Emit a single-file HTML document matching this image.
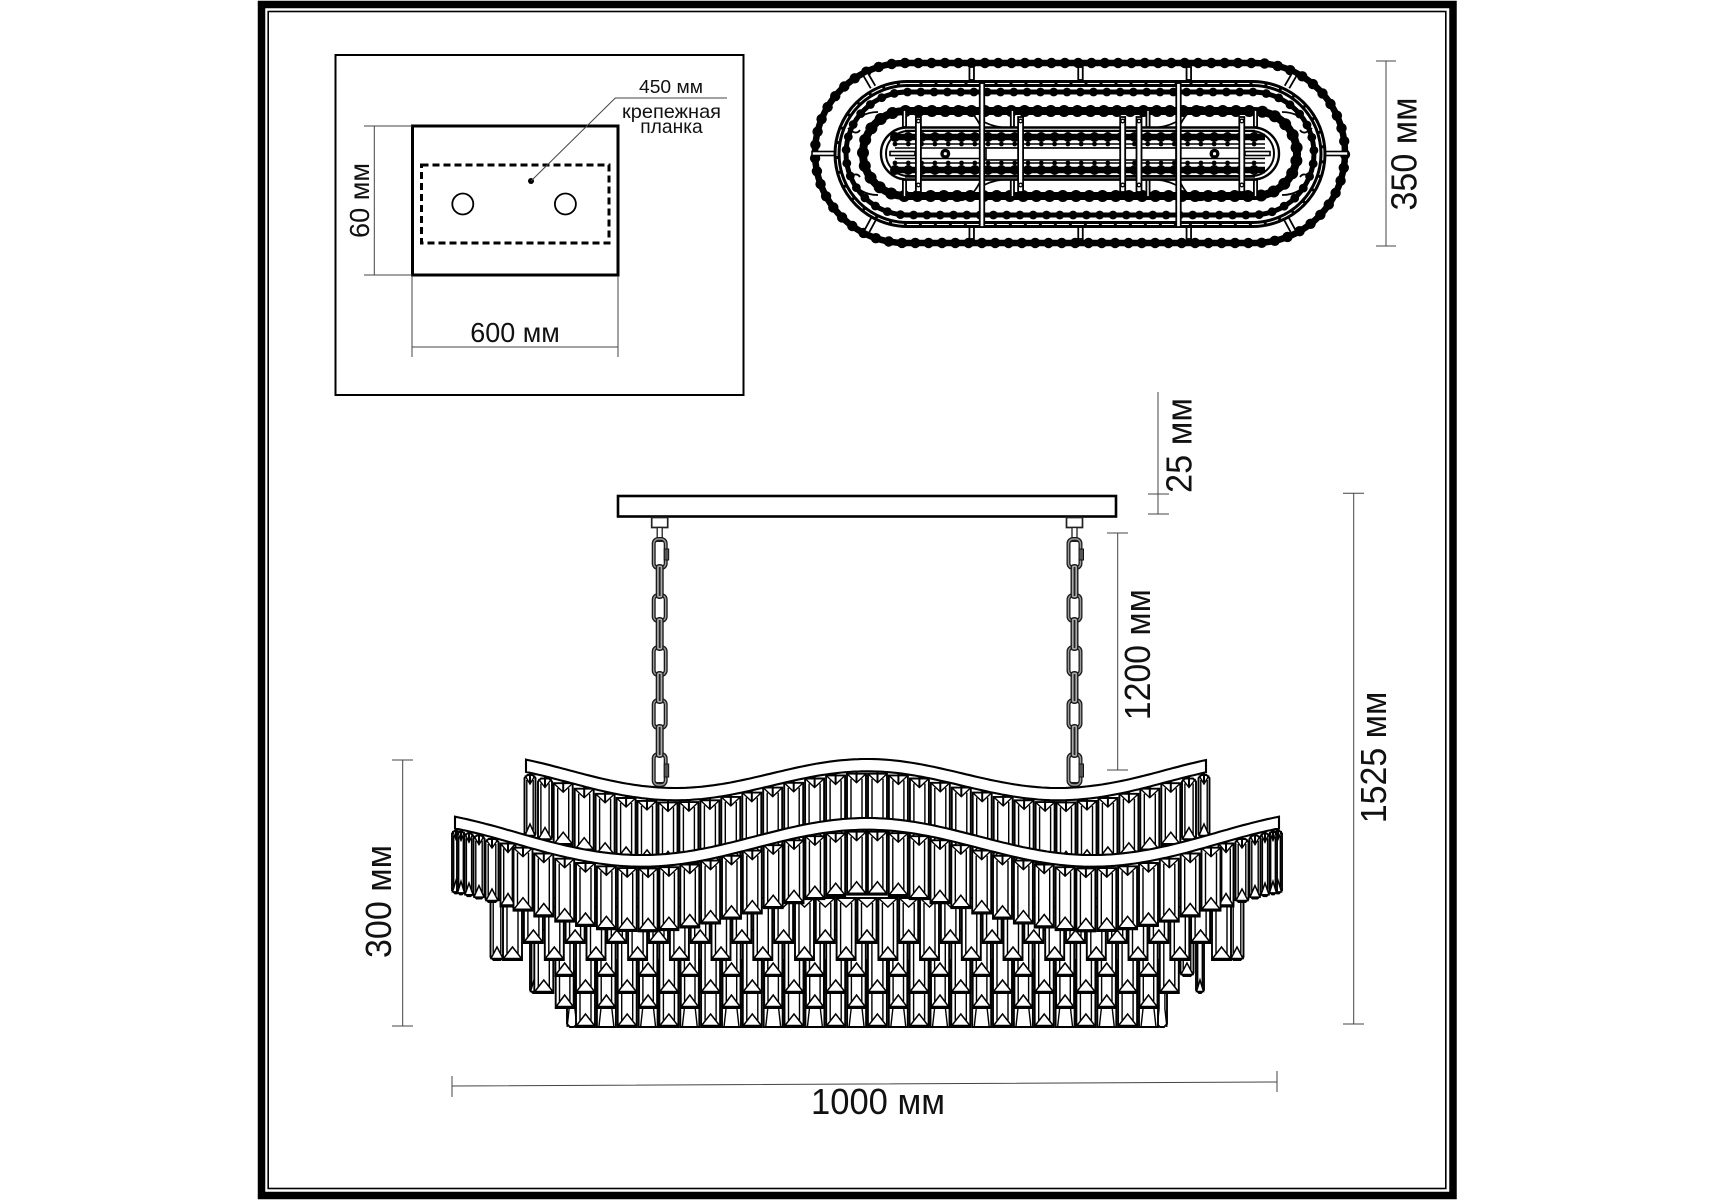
<!DOCTYPE html>
<html lang="ru"><head><meta charset="utf-8"><title>Схема</title>
<style>html,body{margin:0;padding:0;background:#fff}svg{display:block}text{font-family:"Liberation Sans",sans-serif;fill:#111}</style></head>
<body>
<svg xmlns="http://www.w3.org/2000/svg" width="1715" height="1200" viewBox="0 0 1715 1200">
<rect width="1715" height="1200" fill="#fff"/>
<rect x="261.5" y="4.5" width="1191.5" height="1191" fill="none" stroke="#000" stroke-width="7.5"/>
<rect x="268.2" y="11.5" width="1177.6" height="1177" fill="none" stroke="#000" stroke-width="1.6"/>
<!-- mounting panel -->
<rect x="335.5" y="55" width="408" height="340" fill="none" stroke="#000" stroke-width="2"/>
<rect x="412.5" y="126" width="205.5" height="149" fill="none" stroke="#000" stroke-width="3"/>
<rect x="421.5" y="165" width="187.5" height="78" fill="none" stroke="#000" stroke-width="3" stroke-dasharray="7 4"/>
<circle cx="462.8" cy="204" r="10.5" fill="none" stroke="#000" stroke-width="1.8"/>
<circle cx="565.4" cy="204" r="10.5" fill="none" stroke="#000" stroke-width="1.8"/>
<circle cx="531" cy="181" r="3" fill="#000"/>
<g fill="none" stroke="#444" stroke-width="1">
<path d="M531 181L615.3 98H727"/>
<path d="M364 126H412M364 275H412M374.3 126V275"/>
<path d="M412 276V357M618 276V357M412 347H618"/>
<path d="M1376 61H1396M1376 246H1396M1386 61V246"/>
<path d="M1158 392V514M1148 494H1169M1148 514H1169"/>
<path d="M1107 533H1128M1107 770H1128M1117.7 533V770"/>
<path d="M1343 493.3H1364M1343 1024H1364M1353.7 493.3V1024"/>
<path d="M392 760H413M392 1026H413M402.7 760V1026"/>
<path d="M452 1076V1097M1277 1071V1092M452 1086L1277 1082"/>
</g>
<text x="671" y="93" text-anchor="middle" font-size="18.5" textLength="64" lengthAdjust="spacingAndGlyphs">450 мм</text>
<text x="671.5" y="118" text-anchor="middle" font-size="19.5" textLength="99" lengthAdjust="spacingAndGlyphs">крепежная</text>
<text x="671.5" y="133" text-anchor="middle" font-size="19.5" textLength="62.5" lengthAdjust="spacingAndGlyphs">планка</text>
<text x="515" y="342" text-anchor="middle" font-size="27.5" textLength="89.5" lengthAdjust="spacingAndGlyphs">600 мм</text>
<text transform="translate(369 200.5) rotate(-90)" text-anchor="middle" font-size="27.5" textLength="75" lengthAdjust="spacingAndGlyphs">60 мм</text>
<text transform="translate(1416.5 154) rotate(-90)" text-anchor="middle" font-size="36" textLength="113" lengthAdjust="spacingAndGlyphs">350 мм</text>
<text transform="translate(1191.7 445.5) rotate(-90)" text-anchor="middle" font-size="36" textLength="95" lengthAdjust="spacingAndGlyphs">25 мм</text>
<text transform="translate(1150 654.7) rotate(-90)" text-anchor="middle" font-size="36" textLength="131" lengthAdjust="spacingAndGlyphs">1200 мм</text>
<text transform="translate(1386 757.5) rotate(-90)" text-anchor="middle" font-size="36" textLength="131.6" lengthAdjust="spacingAndGlyphs">1525 мм</text>
<text transform="translate(391 901.5) rotate(-90)" text-anchor="middle" font-size="36" textLength="113" lengthAdjust="spacingAndGlyphs">300 мм</text>
<text x="878" y="1114" text-anchor="middle" font-size="36" textLength="134" lengthAdjust="spacingAndGlyphs">1000 мм</text>
<!-- canopy -->
<rect x="618" y="496" width="498" height="20.5" fill="#fff" stroke="#000" stroke-width="2.6"/>
<g id="art"></g>
</svg>
<script>
(function(){
var s='';
var PI=Math.PI;
function f(n){return n.toFixed(1)}
/* ---------- top view ---------- */
function stad(x1,x2,y1,y2){var r=(y2-y1)/2;return 'M'+(x1+r)+' '+y1+'H'+(x2-r)+'A'+r+' '+r+' 0 0 1 '+(x2-r)+' '+y2+'H'+(x1+r)+'A'+r+' '+r+' 0 0 1 '+(x1+r)+' '+y1+'Z';}
function ring(x1,x2,y1,y2,sw,step,br){
  var r=(y2-y1)/2,cy=(y1+y2)/2,L=x2-x1-2*r,P=2*L+2*PI*r,n=Math.round(P/step),c='';
  for(var i=0;i<n;i++){
    var t=i*P/n,x,y;
    if(t<L){x=x1+r+t;y=y1}
    else if(t<L+PI*r){var a=(t-L)/r;x=x2-r+r*Math.sin(a);y=cy-r*Math.cos(a)}
    else if(t<2*L+PI*r){x=x2-r-(t-L-PI*r);y=y2}
    else{var b=(t-2*L-PI*r)/r;x=x1+r-r*Math.sin(b);y=cy+r*Math.cos(b)}
    c+='<circle cx="'+f(x)+'" cy="'+f(y)+'" r="'+br+'"/>';
  }
  s+='<path d="'+stad(x1,x2,y1,y2)+'" fill="none" stroke="#000" stroke-width="'+sw+'"/><g fill="#000">'+c+'</g>';
}
function bar(x,y1,y2,w){s+='<rect x="'+(x-w/2)+'" y="'+y1+'" width="'+w+'" height="'+(y2-y1)+'" fill="#fff" stroke="#000" stroke-width="1.8"/>';}
function hbar(x1,x2,y1,y2){s+='<rect x="'+x1+'" y="'+y1+'" width="'+(x2-x1)+'" height="'+(y2-y1)+'" fill="#fff" stroke="#000" stroke-width="1.6"/>';}
ring(815,1345,63,243,6.5,13.3,5.2);
[971.7,1080.5,1188.8].forEach(function(x){bar(x,67,80,4.5);bar(x,227,239,4.5)});
hbar(812,838,151.5,155.5);hbar(1322,1348,151.5,155.5);
s+='<g stroke="#000" stroke-width="7" stroke-linecap="butt" fill="none"><path d="M866 75L873 87M874 218L867 231M1294 75L1287 87M1286 218L1293 231"/></g>';
s+='<g stroke="#fff" stroke-width="3.4" fill="none"><path d="M866 75L873 87M874 218L867 231M1294 75L1287 87M1286 218L1293 231"/></g>';
s+='<path d="'+stad(837,1323,83.5,224.5)+'" fill="none" stroke="#000" stroke-width="7"/>';
s+='<path d="'+stad(837,1323,83.5,224.5)+'" fill="none" stroke="#fff" stroke-width="1" stroke-dasharray="12 3"/>';
ring(846,1314,92,215,5,13.3,4.4);
/* petals */
s+='<g fill="none" stroke="#000" stroke-width="1.8">';
['M851 127Q860 112 878 112','M851 180Q860 195 878 195','M1309 127Q1300 112 1282 112','M1309 180Q1300 195 1282 195',
 'M848 128Q856 136 860 130','M848 179Q856 171 860 177','M1312 128Q1304 136 1300 130','M1312 179Q1304 171 1300 177',
 'M955 108Q968 102 980 125','M955 199Q968 205 980 182','M1205 108Q1192 102 1180 125','M1205 199Q1192 205 1180 182',
 'M984 122Q1000 130 1020 127','M984 185Q1000 177 1020 180','M1176 122Q1160 130 1140 127','M1176 185Q1160 177 1140 180'].forEach(function(d){s+='<path d="'+d+'"/>'});
s+='</g>';
ring(863,1297,111,196,8,13.3,6);
s+='<path d="'+stad(881,1279,127.5,179.5)+'" fill="#fff" stroke="#000" stroke-width="2.4"/>';
s+='<path d="'+stad(886,1274,131,176)+'" fill="none" stroke="#000" stroke-width="2"/>';
s+='<path d="M905 127.5H1255M905 130.5H1255M905 177H1255M905 180H1255" stroke="#000" stroke-width="1.6" fill="none"/>';
function row(y,x1,x2,sw,step,br){var c='';for(var x=x1;x<=x2;x+=step)c+='<circle cx="'+f(x)+'" cy="'+y+'" r="'+br+'"/>';s+='<g fill="#000">'+c+'</g><path d="M'+x1+' '+y+'H'+x2+'" stroke="#000" stroke-width="'+sw+'"/>';}
row(137,895,1265,6.5,13.3,5);row(170,895,1265,6.5,13.3,5);
row(144,895,1265,1.6,13.3,2.4);row(163,895,1265,1.6,13.3,2.4);
s+='<path d="M895 148H1265M895 158.5H1265" stroke="#000" stroke-width="1.6"/>';
hbar(986,1176,148,160);
hbar(890,915,151.5,155.5);hbar(1245,1270,151.5,155.5);
[[945.3,153.7],[1214.5,153.7]].forEach(function(p){s+='<circle cx="'+p[0]+'" cy="'+p[1]+'" r="5" fill="#000"/><circle cx="'+p[0]+'" cy="'+p[1]+'" r="1.6" fill="#fff"/>'});
[904.5,1012.4,1148,1255.5].forEach(function(x){bar(x,110,127,3.2);bar(x,180,197,3.2)});
[918.4,1020.6,1122.7,1139,1241.8].forEach(function(x){bar(x,117,192,5);
  s+='<circle cx="'+x+'" cy="121" r="1.8" fill="#fff" stroke="#000" stroke-width="1.3"/><circle cx="'+x+'" cy="185" r="1.8" fill="#fff" stroke="#000" stroke-width="1.3"/>';});
bar(982,83,227,4.5);bar(1178.5,83,227,4.5);
/* ---------- chains ---------- */
function link(x,y,w,h,r,c){s+='<rect x="'+x+'" y="'+y+'" width="'+w+'" height="'+h+'" rx="'+r+'" fill="'+c+'"/>';}
function chain(cx){
  s+='<rect x="'+(cx-8)+'" y="517.5" width="16" height="10" fill="#fff" stroke="#222" stroke-width="1.7"/>';
  s+='<rect x="'+(cx-2.5)+'" y="527.5" width="5" height="12" fill="#fff" stroke="#222" stroke-width="1.3"/>';
  var big=[[537,570],[593,623],[645,677],[698,730],[752,787]];
  big.forEach(function(b,i){
    var h=b[1]-b[0];
    link(cx-8,b[0],16,h,6.5,'#1c1c1c');
    link(cx-6.7,b[0]+1.3,13.4,h-2.6,5.5,'#999');
    link(cx-5.3,b[0]+2.7,10.6,h-5.4,4,'#1c1c1c');
    link(cx-4,b[0]+5,8,h-10,1.5,'#fff');
    if(i==0||i==4)s+='<rect x="'+(cx+4.5)+'" y="'+(b[0]+12)+'" width="4.5" height="'+(h-22)+'" fill="#555" stroke="#111"/>';
  });
  for(var i=0;i<4;i++){var y1=big[i][1]-6,y2=big[i+1][0]+6;
    link(cx-4,y1,8,y2-y1,3.5,'#1c1c1c');
    link(cx-2.6,y1+1.5,5.2,y2-y1-3,2,'#aaa');
    link(cx-.9,y1+3,1.8,y2-y1-6,.5,'#222');}
}
chain(659.7);chain(1074.5);
/* ---------- crystals ---------- */
function crystal(x,y0,L,w,o){
  o=o||{};var h=w/2,k=w/19,a=5.5*k,t='';
  var ch=w<15?3:0;
  t+='<path d="M'+f(x-h)+' '+f(y0+ch)+'L'+f(x-h+ch)+' '+f(y0)+'H'+f(x+h-ch)+'L'+f(x+h)+' '+f(y0+ch)+'V'+f(y0+L-ch)+'L'+f(x+h-ch)+' '+f(y0+L)+'H'+f(x-h+ch)+'L'+f(x-h)+' '+f(y0+L-ch)+'Z" fill="#fff"/>';
  if(!o.noTop){
    t+='<path d="M'+f(x-h+.5)+' '+f(y0+.5)+'L'+f(x)+' '+f(y0+9)+'L'+f(x+h-.5)+' '+f(y0+.5)+'" fill="none" stroke-width="1.4"/>';
    if(!o.noStem)t+='<path d="M'+f(x)+' '+f(y0-5)+'V'+f(y0+9)+'" stroke-width="2"/>';
  }
  if(o.trap){
    t+='<path d="M'+f(x-a)+' '+f(y0)+'V'+f(y0+L-18)+'L'+f(x-a-2)+' '+f(y0+L)+'M'+f(x+a)+' '+f(y0)+'V'+f(y0+L-18)+'L'+f(x+a+2)+' '+f(y0+L)+'" fill="none" stroke-width="1.4"/>';
  }else{
    t+='<path d="M'+f(x-a)+' '+f(y0+(o.noTop?0:5))+'V'+f(y0+L-6.3)+'M'+f(x+a)+' '+f(y0+(o.noTop?0:5))+'V'+f(y0+L-6.3)+'" fill="none" stroke-width="1.4"/>';
    t+='<path d="M'+f(x)+' '+f(y0+L-13)+'L'+f(x-h+.5)+' '+f(y0+L-1.5)+'H'+f(x+h-.5)+'Z" fill="#fff" stroke-width="1.5"/>';
  }
  s+=t;
}
var tw=2*PI;
function r1(x){var d=x-867,a=Math.abs(d),y=773.5-14.5*Math.cos(tw*d/383);if(a>250)y-=2.7*Math.pow((a-250)/91,2);return y;}
function r2(x){var d=x-867,a=Math.abs(d),y=836.5-18.5*Math.cos(tw*d/450);if(a>300)y-=3.8*Math.pow((a-300)/111,2);return y;}
function rail(fn,x1,x2,t){
  var top=[],bot=[];
  for(var x=x1;x<=x2+.01;x+=4){top.push(f(x)+' '+f(fn(x)));bot.unshift(f(x)+' '+f(fn(x)+t));}
  s+='<path d="M'+top.join('L')+'L'+bot.join('L')+'Z" fill="#fff" stroke="#000" stroke-width="2.1"/>';
}
s+='<g stroke="#000" stroke-width="1.9" stroke-linejoin="miter">';
var C=867,SP=20.85,i,j,k;
function P(j){return C+SP*(j+.5)}
function Q(k){return C+SP*k}
crystal(572,970,57,10,{noTop:1,trap:1});crystal(1162,970,57,10,{noTop:1,trap:1});
for(j=-14;j<=13;j++){
  if(j&1)crystal(P(j),960,67,19,{noTop:1,trap:1});
  else crystal(P(j),960,67,19,{noTop:1});
}
for(j=-15;j<=14;j++)if(j&1)crystal(P(j),940,68,18,{noTop:1});
crystal(534,930,63,8,{noTop:1});crystal(1200,930,63,8,{noTop:1});
for(j=-16;j<=15;j++)if(!(j&1))crystal(P(j),930,63,19,{noTop:1});
crystal(1187,920,56,13,{noTop:1});
for(j=-15;j<=14;j++)if(j&1)crystal(P(j),920,56,18.5,{noTop:1});
/* third tier, lattice Q */
crystal(497,900,60,13,{noTop:1});crystal(1237,900,60,13,{noTop:1});
for(k=-17;k<=17;k++){
  if(k&1)crystal(Q(k),898,62,19,{noStem:1});
}
for(k=-16;k<=16;k+=2)crystal(Q(k),898,45,19,{noStem:1});
/* upper tier */
var T1=[];
[[337,11],[322,14]].forEach(function(e){T1.push([C-e[0],e[1]]);T1.push([C+e[0],e[1]])});
for(k=-15;k<=14;k++)T1.push([C+20.95*(k+.5),19]);
T1.sort(function(a,b){return Math.abs(b[0]-C)-Math.abs(a[0]-C)});
T1.forEach(function(e){crystal(e[0],r1(e[0])+14.5,62,e[1])});
rail(r1,526,1209,12.3);
/* front tier */
var T2=[];
[[411,8],[406,8],[398,9],[388,11],[375,13],[359,15]].forEach(function(e){T2.push([C-e[0],e[1]]);T2.push([C+e[0],e[1]])});
for(k=-17;k<=16;k++)T2.push([C+SP*(k+.5),19]);
T2.sort(function(a,b){return Math.abs(b[0]-C)-Math.abs(a[0]-C)});
T2.forEach(function(e){crystal(e[0],r2(e[0])+13.5,63,e[1])});
s+='</g>';
rail(r2,455,1280,11.7);
document.getElementById('art').innerHTML=s;
})();
</script>
</body></html>
